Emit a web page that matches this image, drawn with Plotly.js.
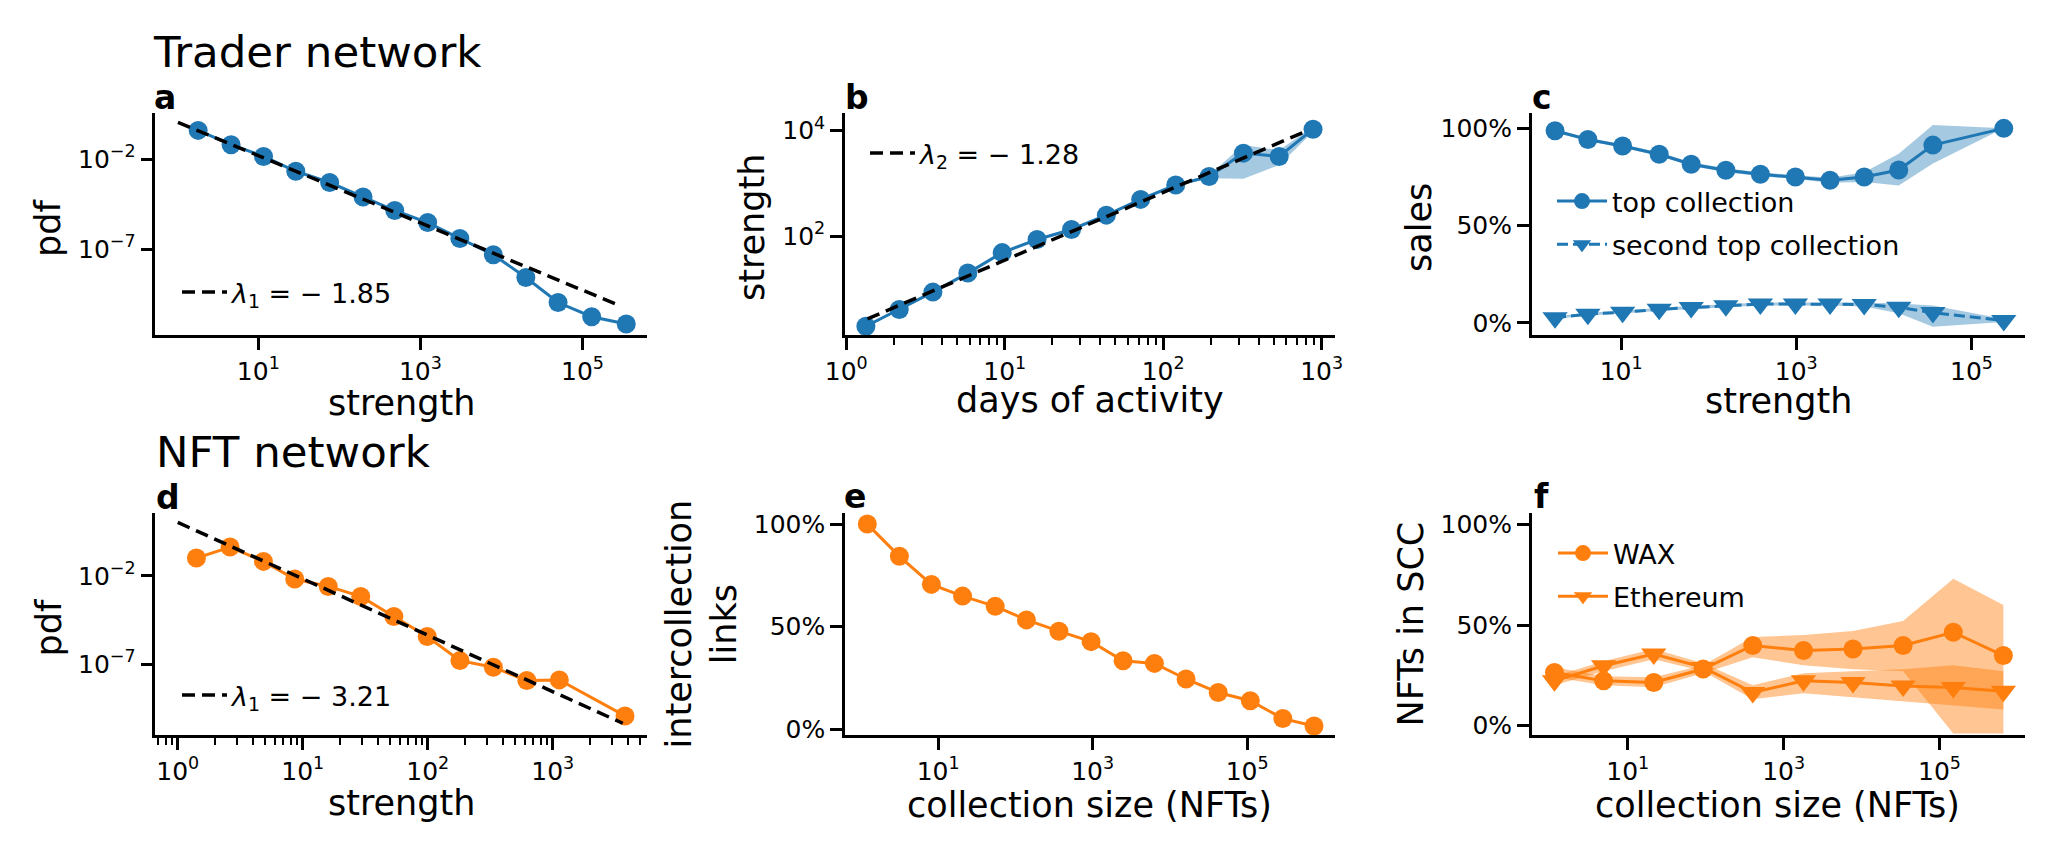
<!DOCTYPE html>
<html>
<head>
<meta charset="utf-8">
<script src="https://cdn.plot.ly/plotly-3.0.1.min.js"></script>
<style>
  body { margin: 0; background: #fff; }
  #chart { width: 2054px; height: 854px; }
</style>
</head>
<body>
<div id="chart"></div>
<script>
// values

// a: trader strength distribution
const aStrength = [1.81, 4.61, 11.6, 29.0, 75.9, 196, 483, 1230, 3070, 7940, 2.0e4, 5.0e4, 1.3e5, 3.47e5];
const aPdf = [0.39, 0.063, 0.014, 2.1e-3, 5.0e-4, 7.8e-5, 1.4e-5, 3.0e-6, 3.9e-7, 4.9e-8, 2.7e-9, 1.1e-10, 1.8e-11, 7.1e-12];
const aFitX = [1.02, 2.95e5];
const aFitY = [1.09, 7.1e-11];

// b: strength vs days of activity
const bDays = [1.33, 2.16, 3.52, 5.85, 9.64, 16.0, 26.4, 43.8, 72.1, 120, 195, 321, 540, 883];
const bStrength = [1.96, 4.07, 8.71, 20.0, 48.9, 86.5, 134, 251, 499, 933, 1350, 3760, 3240, 10700];
const bLo = [1.85, 3.85, 8.2, 18.9, 46.5, 82, 127, 238, 472, 880, 1250, 1230, 2240, 9550];
const bHi = [2.08, 4.3, 9.2, 21.2, 51.5, 91, 141, 265, 527, 990, 1450, 5370, 4270, 12000];
const bFitX = [1.36, 811];
const bFitY = [2.70, 10000];

// c: share of sales in top collections
const cStrength = [1.76, 4.17, 10.4, 27.2, 63.1, 157, 389, 977, 2430, 5960, 14800, 36300, 234000];
const cTop = [0.988, 0.943, 0.909, 0.867, 0.816, 0.785, 0.764, 0.750, 0.733, 0.750, 0.786, 0.914, 1.0];
const cTopLo = [0.98, 0.935, 0.9, 0.858, 0.806, 0.775, 0.754, 0.74, 0.72, 0.724, 0.707, 0.82, 1.0];
const cTopHi = [0.996, 0.951, 0.918, 0.876, 0.826, 0.795, 0.774, 0.76, 0.746, 0.775, 0.87, 1.017, 1.0];
const cSecond = [0.027, 0.045, 0.055, 0.07, 0.079, 0.088, 0.097, 0.097, 0.097, 0.095, 0.08, 0.053, 0.012];
const cSecondLo = [0.02, 0.038, 0.048, 0.062, 0.071, 0.08, 0.089, 0.089, 0.089, 0.085, 0.05, -0.02, 0.005];
const cSecondHi = [0.034, 0.052, 0.062, 0.078, 0.087, 0.096, 0.105, 0.105, 0.105, 0.105, 0.10, 0.09, 0.02];

// d: NFT strength distribution
const dStrength = [1.41, 2.62, 4.85, 8.63, 16.0, 29.1, 53.6, 99.1, 181, 335, 621, 1130, 3790];
const dPdf = [0.10, 0.42, 0.065, 6.5e-3, 2.5e-3, 6.8e-4, 5.0e-5, 3.7e-6, 1.6e-7, 6.8e-8, 1.2e-8, 1.3e-8, 1.2e-10];
const dFitX = [1.0, 3640];
const dFitY = [10.4, 4.6e-11];

// e: intercollection links vs collection size
const eSize = [1.21, 3.15, 8.18, 20.7, 54.8, 139, 366, 955, 2480, 6310, 16200, 42200, 110000, 290000, 735000];
const eLinks = [1.0, 0.843, 0.706, 0.649, 0.599, 0.533, 0.478, 0.427, 0.334, 0.321, 0.245, 0.179, 0.139, 0.052, 0.016];

// f: NFTs in SCC vs collection size
const fSize = [1.15, 4.91, 21.6, 92.9, 402, 1800, 7760, 34100, 150000, 659000];
const fWax = [0.264, 0.222, 0.214, 0.281, 0.398, 0.373, 0.381, 0.398, 0.464, 0.348];
const fWaxLo = [0.24, 0.20, 0.19, 0.26, 0.34, 0.30, 0.28, 0.27, -0.04, -0.04];
const fWaxHi = [0.29, 0.245, 0.24, 0.30, 0.44, 0.45, 0.47, 0.52, 0.73, 0.60];
const fEth = [0.222, 0.297, 0.356, 0.289, 0.164, 0.222, 0.214, 0.197, 0.189, 0.17];
const fEthLo = [0.20, 0.27, 0.33, 0.27, 0.13, 0.16, 0.14, 0.12, 0.10, 0.08];
const fEthHi = [0.245, 0.32, 0.38, 0.31, 0.20, 0.26, 0.27, 0.28, 0.30, 0.27];

const FONT = 'DejaVu Sans';
const BLUE = '#1f77b4';
const ORANGE = '#ff7f0e';
const W = 2054, H = 854;
const px = v => v / W;
const py = v => 1 - v / H;

const pow10 = e => '10<sup>' + (e < 0 ? '\u2212' + (-e) : e) + '</sup>';

function axis(extra) {
  return Object.assign({
    showline: true, linecolor: 'black', linewidth: 2.5,
    ticks: 'outside', ticklen: 12, tickwidth: 2.5, tickcolor: 'black',
    showgrid: false, zeroline: false, fixedrange: true,
    tickfont: { family: FONT, size: 25, color: 'black' }
  }, extra);
}

function logAxis(domain, range, exps, anchor, minorVals) {
  const a = axis({
    type: 'log', domain: domain, range: range, anchor: anchor,
    tickmode: 'array', tickvals: exps.map(e => Math.pow(10, e)), ticktext: exps.map(pow10)
  });
  if (minorVals) {
    a.minor = { tickmode: 'array', tickvals: minorVals, ticks: 'outside', ticklen: 7, tickwidth: 2, tickcolor: 'black' };
  }
  return a;
}

function pctAxis(domain, range, anchor) {
  return axis({
    domain: domain, range: range, anchor: anchor,
    tickmode: 'array', tickvals: [0, 0.5, 1], ticktext: ['0%', '50%', '100%']
  });
}

// minor tick positions for the log axes that show them
function minorTicks(lo, hi) {
  const out = [];
  for (let e = lo; e <= hi; e++) {
    for (let k = 2; k <= 9; k++) out.push(k * Math.pow(10, e));
  }
  return out;
}

function band(x, lo, hi, xa, ya, color) {
  return {
    x: x.concat(x.slice().reverse()), y: hi.concat(lo.slice().reverse()),
    xaxis: xa, yaxis: ya, mode: 'lines', fill: 'toself', fillcolor: color,
    line: { width: 0 }, showlegend: false, hoverinfo: 'skip'
  };
}

function series(x, y, xa, ya, color, opts) {
  return Object.assign({
    x: x, y: y, xaxis: xa, yaxis: ya, mode: 'lines+markers',
    line: { color: color, width: 3 },
    marker: { color: color, size: 19, symbol: 'circle' },
    showlegend: false
  }, opts);
}

function fit(x, y, xa, ya, name, legend) {
  return {
    x: x, y: y, xaxis: xa, yaxis: ya, mode: 'lines', name: name, legend: legend,
    line: { color: 'black', width: 3.5, dash: '13px,7px' }
  };
}

const blueFill = 'rgba(31,119,180,0.4)';
const orangeFill = 'rgba(255,127,14,0.45)';

const traces = [
  // a
  series(aStrength, aPdf, 'x', 'y', BLUE),
  fit(aFitX, aFitY, 'x', 'y', '<i>\u03bb</i><sub>1</sub> = \u2212 1.85', 'legend'),
  // b
  band(bDays, bLo, bHi, 'x2', 'y2', blueFill),
  series(bDays, bStrength, 'x2', 'y2', BLUE),
  fit(bFitX, bFitY, 'x2', 'y2', '<i>\u03bb</i><sub>2</sub> = \u2212 1.28', 'legend2'),
  // c
  band(cStrength, cTopLo, cTopHi, 'x3', 'y3', blueFill),
  band(cStrength, cSecondLo, cSecondHi, 'x3', 'y3', blueFill),
  series(cStrength, cTop, 'x3', 'y3', BLUE, { name: 'top collection', showlegend: true, legend: 'legend3', legendgroup: 'c1' }),
  series(cStrength, cSecond, 'x3', 'y3', BLUE, {
    name: 'second top collection', showlegend: true, legend: 'legend3', legendgroup: 'c2',
    line: { color: BLUE, width: 3, dash: '11px,5px' },
    marker: { color: BLUE, size: 22, symbol: 'triangle-down' }
  }),
  // d
  series(dStrength, dPdf, 'x4', 'y4', ORANGE),
  fit(dFitX, dFitY, 'x4', 'y4', '<i>\u03bb</i><sub>1</sub> = \u2212 3.21', 'legend4'),
  // e
  series(eSize, eLinks, 'x5', 'y5', ORANGE),
  // f
  band(fSize, fWaxLo, fWaxHi, 'x6', 'y6', orangeFill),
  band(fSize, fEthLo, fEthHi, 'x6', 'y6', orangeFill),
  series(fSize, fWax, 'x6', 'y6', ORANGE, { name: 'WAX', showlegend: true, legend: 'legend5', legendgroup: 'f1' }),
  series(fSize, fEth, 'x6', 'y6', ORANGE, {
    name: 'Ethereum', showlegend: true, legend: 'legend5', legendgroup: 'f2',
    marker: { color: ORANGE, size: 22, symbol: 'triangle-down' }
  })
];

function legendAt(x, top, iw) {
  return {
    x: px(x), y: py(top), xanchor: 'left', yanchor: 'top',
    bgcolor: 'rgba(0,0,0,0)', borderwidth: 0, itemwidth: iw,
    traceorder: 'grouped', tracegroupgap: 5,
    font: { family: FONT, size: 27, color: 'black' }
  };
}

function label(text, x, y, size, opts) {
  return Object.assign({
    text: text, x: px(x), y: py(y), xref: 'paper', yref: 'paper', showarrow: false,
    xanchor: 'center', yanchor: 'middle', font: { family: FONT, size: size, color: 'black' }
  }, opts);
}

const colA = [px(155.4), px(647.3)];
const colB = [px(845), px(1335.4)];
const colC = [px(1531.8), px(2025.3)];
const rowTop = [py(335), py(113)];
const rowBot = [py(735), py(513)];

const layout = {
  width: W, height: H,
  margin: { l: 0, r: 0, t: 0, b: 0 },
  paper_bgcolor: 'white', plot_bgcolor: 'white',
  font: { family: FONT, color: 'black' },
  xaxis: logAxis(colA, [-0.27, 5.80], [1, 3, 5], 'y'),
  yaxis: logAxis(rowTop, [-11.76, 0.556], [-2, -7], 'x'),
  xaxis2: logAxis(colB, [-0.008, 3.087], [0, 1, 2, 3], 'y2', minorTicks(0, 2)),
  yaxis2: logAxis(rowTop, [0.127, 4.336], [2, 4], 'x2'),
  xaxis3: logAxis(colC, [-0.02, 5.615], [1, 3, 5], 'y3'),
  yaxis3: pctAxis(rowTop, [-0.062, 1.079], 'x3'),
  xaxis4: logAxis(colA, [-0.179, 3.757], [0, 1, 2, 3], 'y4', minorTicks(-1, 3)),
  yaxis4: logAxis(rowBot, [-11.0, 1.547], [-2, -7], 'x4'),
  xaxis5: logAxis(colB, [-0.206, 6.143], [1, 3, 5], 'y5'),
  yaxis5: pctAxis(rowBot, [-0.028, 1.054], 'x5'),
  xaxis6: logAxis(colC, [-0.23, 6.10], [1, 3, 5], 'y6'),
  yaxis6: pctAxis(rowBot, [-0.0475, 1.0575], 'x6'),
  legend: legendAt(177, 268, 45),
  legend2: legendAt(865, 129, 45),
  legend3: legendAt(1552, 177, 50),
  legend4: legendAt(177, 671, 45),
  legend5: legendAt(1553, 529, 50),
  annotations: [
    label('Trader network', 151, 52, 43.5, { xanchor: 'left' }),
    label('NFT network', 154, 451.6, 43.5, { xanchor: 'left' }),
    label('<b>a</b>', 152, 97, 33, { xanchor: 'left' }),
    label('<b>b</b>', 843, 97, 33, { xanchor: 'left' }),
    label('<b>c</b>', 1530, 97, 33, { xanchor: 'left' }),
    label('<b>d</b>', 154, 497, 33, { xanchor: 'left' }),
    label('<b>e</b>', 842, 496, 33, { xanchor: 'left' }),
    label('<b>f</b>', 1532, 496, 33, { xanchor: 'left' }),
    label('strength', 401.7, 403, 35),
    label('days of activity', 1089.6, 400, 35),
    label('strength', 1778, 401, 35),
    label('strength', 401.7, 803, 35),
    label('collection size (NFTs)', 1089, 804.6, 35),
    label('collection size (NFTs)', 1777.7, 804.6, 35),
    label('pdf', 47.5, 228.5, 35, { textangle: -90 }),
    label('strength', 752, 228, 35, { textangle: -90 }),
    label('sales', 1419, 228, 35, { textangle: -90 }),
    label('pdf', 48.5, 628, 35, { textangle: -90 }),
    label('intercollection<br>links', 701.5, 624, 35, { textangle: -90 }),
    label('NFTs in SCC', 1410.5, 624, 35, { textangle: -90 })
  ]
};

Plotly.newPlot('chart', traces, layout, { displayModeBar: false, responsive: false });
</script>
</body>
</html>
